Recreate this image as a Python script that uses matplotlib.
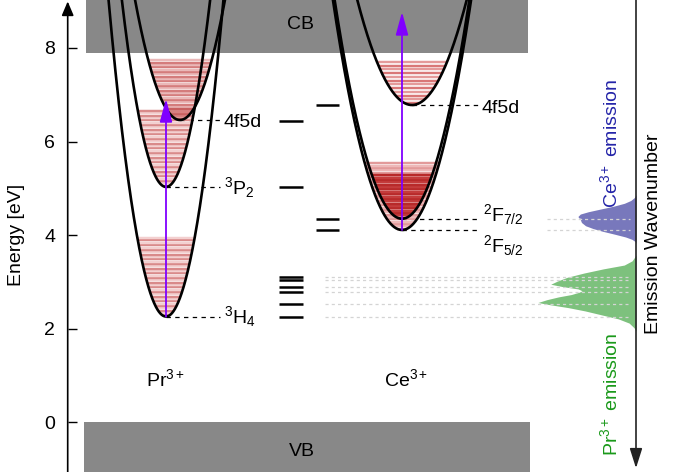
import numpy as np
import matplotlib
matplotlib.use("Agg")
import matplotlib.pyplot as plt
from matplotlib.patches import Rectangle

plt.rcParams['font.family'] = ['Liberation Sans', 'DejaVu Sans']
plt.rcParams['mathtext.fontset'] = 'custom'
plt.rcParams['mathtext.rm'] = 'Liberation Sans'
plt.rcParams['mathtext.it'] = 'Liberation Sans:italic'
plt.rcParams['mathtext.bf'] = 'Liberation Sans:bold'

# ---- data (energies in eV) ----
pr_state_labels = ['$^3$H$_4$', '$^3$P$_2$', '4f5d']
pr_state_minima = [2.26, 5.03, 6.46]
pr_band_tops = [3.94, 6.69, 7.78]
pr_excitation_top = 6.91

ce_state_labels = ['$^2$F$_{5/2}$', '$^2$F$_{7/2}$', '4f5d']
ce_state_minima = [4.11, 4.35, 6.78]
ce_band_tops = [5.54, 5.31, 7.78]
ce_excitation_top = 8.77

pr_levels = [2.26, 2.52, 2.78, 2.89, 3.04, 3.11, 5.03, 6.44]
ce_levels = [4.11, 4.35, 6.78]

cb_bottom = 7.89
vb_top = 0.0

pr_emission_energy = [3.57, 3.45, 3.36, 3.28, 3.19, 3.10, 3.02, 2.95, 2.90, 2.85, 2.81,
                      2.78, 2.73, 2.68, 2.62, 2.56, 2.52, 2.45, 2.38, 2.30, 2.21, 2.12,
                      2.02, 1.95]
pr_emission_intensity = [0.0, 0.04, 0.12, 0.33, 0.53, 0.70, 0.80, 0.87, 0.75, 0.59, 0.55,
                         0.58, 0.66, 0.79, 0.91, 1.0, 0.90, 0.69, 0.52, 0.36, 0.18, 0.07,
                         0.02, 0.0]
ce_emission_energy = [4.86, 4.80, 4.74, 4.68, 4.62, 4.56, 4.50, 4.45, 4.40, 4.37, 4.35,
                      4.33, 4.27, 4.20, 4.14, 4.08, 4.02, 3.96, 3.91, 3.86, 3.82]
ce_emission_intensity = [0.0, 0.03, 0.09, 0.20, 0.38, 0.60, 0.82, 0.96, 1.0, 0.99, 0.93,
                         0.96, 0.94, 0.87, 0.74, 0.57, 0.37, 0.18, 0.07, 0.01, 0.0]

# ---- layout (horizontal positions in canvas units) ----
pr_x = [166, 166, 180]
pr_curv = [0.00205, 0.00205, 0.00127]
ce_x = [402, 402, 412]
ce_curv = [0.00103, 0.00103, 0.00075]
emis_base = 636
E_LO, E_HI = -1.062, 9.024

fig = plt.figure(figsize=(6.88, 4.72), dpi=100)
ax = fig.add_axes([0, 0, 1, 1])
ax.set_xlim(0, 688)
ax.set_ylim(E_LO, E_HI)
for s in ax.spines.values():
    s.set_visible(False)
ax.spines['left'].set_position(('data', 67.7))
ax.set_xticks([])
ax.set_yticks([0, 2, 4, 6, 8])
ax.tick_params(axis='y', direction='in', length=6.5, width=1, pad=9, labelsize=14)
ax.set_ylabel('Energy [eV]', fontsize=14)
ax.yaxis.set_label_coords(25 / 688, (4.01 - E_LO) / (E_HI - E_LO))

ax.annotate('', xy=(67.7, E_HI - 0.03), xytext=(67.7, E_LO),
            arrowprops=dict(arrowstyle='-|>,head_length=0.85,head_width=0.36',
                            mutation_scale=10, lw=1.2, color='black',
                            shrinkA=0, shrinkB=0), annotation_clip=False)

# bands
ax.add_patch(Rectangle((86, cb_bottom), 442, 2.0, color='#888888', lw=0, zorder=1))
ax.add_patch(Rectangle((84, E_LO - 0.2), 446, vb_top - E_LO + 0.2, color='#888888', lw=0, zorder=1))
ax.text(300, 8.49, 'CB', ha='center', va='center', fontsize=14, zorder=6)
ax.text(302, -0.62, 'VB', ha='center', va='center', fontsize=14, zorder=6)


def stripes(x0, e0, k, etop, cols, step=0.05, z=2):
    es = np.arange(e0 + step / 2, etop, step)
    hw = np.sqrt((es - e0) / k)
    colors = [cols[i % 2] for i in range(len(es))]
    ax.hlines(es, x0 - hw, x0 + hw, colors=colors, lw=1.75, zorder=z)


def well(x0, e0, k):
    hw = np.sqrt((E_HI + 0.5 - e0) / k)
    xs = np.linspace(x0 - hw, x0 + hw, 600)
    ax.plot(xs, e0 + k * (xs - x0) ** 2, color='black', lw=1.9, zorder=4,
            solid_capstyle='round')


# dashed guide lines (under stripes)
dash = dict(color='black', lw=0.9, ls=(0, (3.5, 3.5)), zorder=1.5)
ax.plot([166, 220], [pr_state_minima[0]] * 2, **dash)
ax.plot([166, 220], [pr_state_minima[1]] * 2, **dash)
ax.plot([180, 220], [pr_state_minima[2]] * 2, **dash)
ax.plot([402, 478], [ce_state_minima[0]] * 2, **dash)
ax.plot([402, 478], [ce_state_minima[1]] * 2, **dash)
ax.plot([412, 480], [ce_state_minima[2]] * 2, **dash)

# vibrational manifolds
pr_cols = [('#d98a8a', '#f3d0d0'), ('#d98a8a', '#f3d0d0'), ('#d47c7c', '#eab8b8')]
for i in range(3):
    stripes(pr_x[i], pr_state_minima[i], pr_curv[i], pr_band_tops[i], pr_cols[i], z=2 + 0.1 * i)
# overlap of Pr 4f5d and 3P2 bands darker
stripes(pr_x[2], pr_state_minima[2], pr_curv[2], pr_band_tops[1], ('#c86060', '#d88080'), z=2.3)

stripes(ce_x[0], ce_state_minima[0], ce_curv[0], ce_band_tops[0], ('#e29a9a', '#eeb8b8'), z=2)
stripes(ce_x[1], ce_state_minima[1], ce_curv[1], ce_band_tops[1], ('#b82a2a', '#c43c3c'), z=2.1)
stripes(ce_x[2], ce_state_minima[2], ce_curv[2], ce_band_tops[2], ('#d97777', '#e49a9a'), step=0.08, z=2)

for i in range(3):
    well(pr_x[i], pr_state_minima[i], pr_curv[i])
    well(ce_x[i], ce_state_minima[i], ce_curv[i])

# excitation arrows
for x0, e0, etop in [(pr_x[0], pr_state_minima[0], pr_excitation_top),
                     (ce_x[0], ce_state_minima[0], ce_excitation_top)]:
    ax.annotate('', xy=(x0, etop), xytext=(x0, e0),
                arrowprops=dict(arrowstyle='-|>,head_length=1.4,head_width=0.38',
                                mutation_scale=10, lw=1.3, color='#8000ff',
                                shrinkA=0, shrinkB=0), zorder=5)

# state labels
fs = 14
ax.text(224, pr_state_minima[0] - 0.15, pr_state_labels[0], fontsize=fs, va='baseline')
ax.text(224, pr_state_minima[1] - 0.15, pr_state_labels[1], fontsize=fs, va='baseline')
ax.text(223, pr_state_minima[2] - 0.15, pr_state_labels[2], fontsize=fs, va='baseline')
ax.text(483, 3.64, ce_state_labels[0], fontsize=fs, va='baseline')
ax.text(483, 4.30, ce_state_labels[1], fontsize=fs, va='baseline')
ax.text(482, ce_state_minima[2] - 0.17, ce_state_labels[2], fontsize=fs, va='baseline')

ax.text(165, 0.78, 'Pr$^{3+}$', fontsize=fs, ha='center', va='baseline')
ax.text(406, 0.78, 'Ce$^{3+}$', fontsize=fs, ha='center', va='baseline')

# level diagrams
ax.hlines(pr_levels, 279, 303, color='black', lw=1.8, zorder=3)
ax.hlines(ce_levels, 316, 339, color='black', lw=1.8, zorder=3)

# emission spectra
ax.fill_betweenx(pr_emission_energy, emis_base - 98 * np.array(pr_emission_intensity),
                 emis_base, color='#7dc17d', lw=0, zorder=2)
ax.fill_betweenx(ce_emission_energy, emis_base - 58 * np.array(ce_emission_intensity),
                 emis_base, color='#7878bc', lw=0, zorder=2)

# guides from levels to emission lines
dot = dict(colors='#d4d4d4', lw=0.9, linestyles=(0, (2.5, 2.5)), zorder=3)
ax.hlines(pr_levels[:6], 325, 628, **dot)
ax.hlines(ce_levels[:2], 547, 630, **dot)

ax.annotate('', xy=(emis_base, -0.98), xytext=(emis_base, E_HI + 0.1),
            arrowprops=dict(arrowstyle='-|>,head_length=1.2,head_width=0.38',
                            mutation_scale=10, lw=1.2, color='#222222',
                            shrinkA=0, shrinkB=0), annotation_clip=False, zorder=4)
ax.text(653, 4.02, 'Emission Wavenumber', rotation=90, fontsize=fs, ha='center', va='center')
ax.text(610, 5.95, 'Ce$^{3+}$ emission', rotation=90, fontsize=fs, ha='center', va='center',
        color='#2424a8')
ax.text(610, 0.60, 'Pr$^{3+}$ emission', rotation=90, fontsize=fs, ha='center', va='center',
        color='#1a991a')

fig.savefig('out.png', dpi=100)
